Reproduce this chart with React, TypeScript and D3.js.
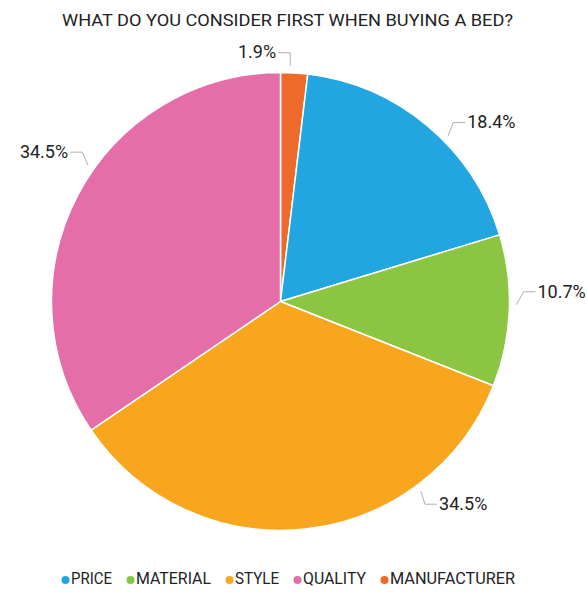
import React from "react";
import * as d3 from "d3";

const categories = ["MANUFACTURER", "PRICE", "MATERIAL", "STYLE", "QUALITY"];
const values = [1.9, 18.4, 10.7, 34.5, 34.5];
const colors = ["#ee6a2b", "#22a6df", "#8bc541", "#f9a61f", "#e56ea8"];
// label leader anchor angle (deg, clockwise from top) and side
const labelAngles = [2.4, 45.3, 90.8, 143.5, 305.3];
const labelSides = [-1, 1, 1, 1, -1];

const legendOrder = ["PRICE", "MATERIAL", "STYLE", "QUALITY", "MANUFACTURER"];
const legendWidths = [41, 75, 44, 63, 125];
const title = "WHAT DO YOU CONSIDER FIRST WHEN BUYING A BED?";

const W = 587;
const H = 592;
const cx = 280.5;
const cy = 301.5;
const R = 229;

export default function App() {
  const pie = d3
    .pie<number>()
    .sort(null)
    .value((d) => d);
  const arcs = pie(values);
  const arc = d3.arc<d3.PieArcDatum<number>>().innerRadius(0).outerRadius(R);

  const polar = (r: number, deg: number) => {
    const a = (deg * Math.PI) / 180;
    return [cx + r * Math.sin(a), cy - r * Math.cos(a)];
  };

  const font = "Roboto, 'Noto Sans', sans-serif";

  // legend layout
  let x = 61.5;
  const legendItems = legendOrder.map((name, i) => {
    const idx = categories.indexOf(name);
    const dotX = x + 4;
    const textX = dotX + 5.5;
    x = textX + legendWidths[i] + 14.5;
    return { name, color: colors[idx], dotX, textX, w: legendWidths[i] };
  });

  return (
    <svg
      width={W}
      height={H}
      style={{ position: "absolute", left: 0, top: 0, background: "#fff" }}
    >
      <rect width={W} height={H} fill="#fff" />
      <text
        x={287.5}
        y={22}
        textAnchor="middle"
        dominantBaseline="middle"
        fontFamily={font}
        fontSize={17}
        fill="#222"
        textLength={451}
        lengthAdjust="spacingAndGlyphs"
      >
        {title}
      </text>
      <g transform={`translate(${cx},${cy})`}>
        {arcs.map((a, i) => (
          <path
            key={i}
            d={arc(a) || ""}
            fill={colors[i]}
            stroke="#fff"
            strokeWidth={1.5}
            strokeLinejoin="round"
          />
        ))}
      </g>
      {arcs.map((a, i) => {
        const ang = labelAngles[i];
        const side = labelSides[i];
        const [x0, y0] = polar(R + 7, ang);
        const up = Math.cos((ang * Math.PI) / 180) >= -0.05 ? -1 : 1;
        const x1 = x0 + side * 7 * Math.abs(Math.sin((ang * Math.PI) / 180));
        const y1 = y0 + up * 13;
        const x2 = x1 + side * 12;
        const tx = x2 + side * 2;
        return (
          <g key={i}>
            <polyline
              points={`${x0},${y0} ${x1},${y1} ${x2},${y1}`}
              fill="none"
              stroke="#b0b0b0"
              strokeWidth={1}
            />
            <text
              x={tx}
              y={y1 + 1}
              textAnchor={side > 0 ? "start" : "end"}
              dominantBaseline="middle"
              fontFamily={font}
              fontSize={18}
              fill="#222"
            >
              {values[i].toFixed(1)}%
            </text>
          </g>
        );
      })}
      {legendItems.map((it) => (
        <g key={it.name}>
          <circle cx={it.dotX} cy={580} r={4} fill={it.color} />
          <text
            x={it.textX}
            y={580}
            dominantBaseline="middle"
            fontFamily={font}
            fontSize={16}
            fill="#222"
            textLength={it.w}
            lengthAdjust="spacingAndGlyphs"
          >
            {it.name}
          </text>
        </g>
      ))}
    </svg>
  );
}
